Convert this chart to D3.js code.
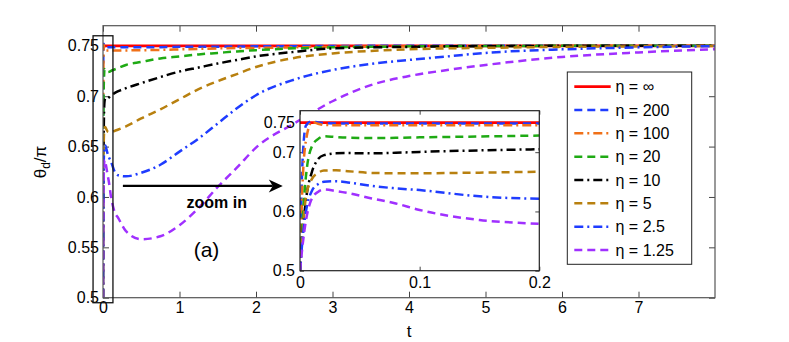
<!DOCTYPE html>
<html><head><meta charset="utf-8">
<script src="https://cdn.jsdelivr.net/npm/d3@7"></script>
<style>
html,body{margin:0;padding:0;background:#fff;}
svg{display:block;font-family:Arial,"Liberation Sans",Helvetica,sans-serif;}
</style></head>
<body><svg id="c" width="789" height="342"></svg>
<script>
// ---- data ----
const tGrid   = [0,0.002,0.005,0.01,0.015,0.02,0.03,0.04,0.06,0.08,0.1,0.15,0.2,0.3,0.5,0.75,1,1.25,1.5,1.75,2,2.5,3,3.5,4,4.5,5,6,7,8];
const etaInf  = [0.75,0.75,0.75,0.75,0.75,0.75,0.75,0.75,0.75,0.75,0.75,0.75,0.75,0.75,0.75,0.75,0.75,0.75,0.75,0.75,0.75,0.75,0.75,0.75,0.75,0.75,0.75,0.75,0.75,0.75];
const eta200  = [0.5,0.68,0.745,0.752,0.750,0.749,0.7485,0.7485,0.7485,0.7485,0.7485,0.7485,0.7485,0.7485,0.7485,0.7487,0.749,0.749,0.7492,0.7494,0.7495,0.7497,0.7498,0.75,0.75,0.75,0.75,0.75,0.75,0.75];
const eta100  = [0.5,0.64,0.72,0.751,0.748,0.746,0.7455,0.7455,0.7455,0.7455,0.7455,0.7455,0.7455,0.7455,0.7456,0.746,0.7465,0.747,0.7475,0.7478,0.748,0.7485,0.749,0.7492,0.7495,0.7497,0.7498,0.75,0.75,0.75];
const eta20   = [0.5,0.58,0.66,0.71,0.722,0.727,0.7255,0.7245,0.724,0.7242,0.725,0.7265,0.728,0.731,0.734,0.7375,0.7395,0.7415,0.743,0.7445,0.7457,0.7475,0.7485,0.749,0.7495,0.7497,0.7498,0.75,0.75,0.75];
const eta10   = [0.5,0.56,0.62,0.667,0.688,0.695,0.698,0.6985,0.698,0.699,0.7005,0.703,0.705,0.708,0.713,0.719,0.7245,0.7285,0.7325,0.736,0.7395,0.744,0.7475,0.7485,0.749,0.7495,0.7497,0.75,0.75,0.75];
const eta5    = [0.5,0.56,0.625,0.655,0.665,0.669,0.6695,0.668,0.665,0.6645,0.6645,0.6655,0.667,0.670,0.678,0.687,0.697,0.707,0.715,0.722,0.729,0.738,0.7425,0.745,0.7465,0.7475,0.748,0.749,0.7495,0.75];
const eta2_5  = [0.5,0.55,0.60,0.635,0.646,0.650,0.651,0.649,0.643,0.639,0.636,0.6255,0.6215,0.6205,0.624,0.632,0.645,0.658,0.673,0.688,0.701,0.7165,0.726,0.732,0.736,0.7395,0.743,0.7465,0.7485,0.7497];
const eta1_25 = [0.5,0.54,0.585,0.622,0.633,0.637,0.6345,0.631,0.622,0.6135,0.6025,0.5855,0.579,0.566,0.558,0.561,0.572,0.589,0.610,0.629,0.649,0.673,0.695,0.711,0.720,0.726,0.731,0.739,0.7435,0.7466];
const seriesLabels = ["η = ∞","η = 200","η = 100","η = 20","η = 10","η = 5","η = 2.5","η = 1.25"];
const seriesValues = [etaInf,eta200,eta100,eta20,eta10,eta5,eta2_5,eta1_25];
const seriesColors = ["#ff0000","#1f3cff","#f07018","#1faa14","#000000","#b8800f","#1f3cff","#a030ff"];
const seriesDash   = [null,"8,5","9,4,2,4","8,5","9,4,2,4","8,5","9,4,2,4","8,5"];
const mainXTicks = [0,1,2,3,4,5,6,7];
const mainYTicks = [0.5,0.55,0.6,0.65,0.7,0.75];
const insetXTicks = [0,0.1,0.2];
const insetYTicks = [0.5,0.6,0.7,0.75];

const svg = d3.select("#c");
const FONT = 16;
const LW = 2.5;

// ---- main axes ----
const L=103,R=715,T=25.7,B=297.7;
const x = d3.scaleLinear().domain([0,8]).range([L,R]);
const y = d3.scaleLinear().domain([0.5,0.77]).range([B,T]);

svg.append("defs").append("clipPath").attr("id","mainclip")
  .append("rect").attr("x",L).attr("y",T).attr("width",R-L).attr("height",B-T);

function styleAxis(g){
  g.select(".domain").remove();
  g.selectAll(".tick line").attr("stroke","#444");
  g.selectAll(".tick text").attr("font-size",FONT).attr("fill","#000").attr("font-family","Arial, 'Liberation Sans', sans-serif");
}
svg.append("g").attr("transform",`translate(0,${B})`)
  .call(d3.axisBottom(x).tickValues(mainXTicks).tickFormat(d3.format("d")).tickSize(-6).tickPadding(4)).call(styleAxis);
svg.append("g").attr("transform",`translate(0,${T})`)
  .call(d3.axisTop(x).tickValues(mainXTicks).tickFormat("").tickSize(-6)).call(styleAxis);
svg.append("g").attr("transform",`translate(${L},0)`)
  .call(d3.axisLeft(y).tickValues(mainYTicks).tickFormat(d=>String(d)).tickSize(-6).tickPadding(4)).call(styleAxis);
svg.append("g").attr("transform",`translate(${R},0)`)
  .call(d3.axisRight(y).tickValues(mainYTicks).tickFormat("").tickSize(-6)).call(styleAxis);

const lineMain = d3.line().x(d=>x(d[0])).y(d=>y(d[1])).curve(d3.curveMonotoneX);
const gm = svg.append("g").attr("clip-path","url(#mainclip)");
seriesValues.forEach((vals,i)=>{
  const pts = tGrid.map((t,j)=>[t,vals[j]]);
  gm.append("path").attr("d",lineMain(pts)).attr("fill","none")
    .attr("stroke",seriesColors[i]).attr("stroke-width",i===0?2.8:LW)
    .attr("stroke-dasharray",seriesDash[i]);
});

svg.append("rect").attr("x",L).attr("y",T).attr("width",R-L).attr("height",B-T)
  .attr("fill","none").attr("stroke","#555").attr("stroke-width",1.2);

// zoom rectangle
svg.append("rect").attr("x",x(-0.13)).attr("y",y(0.76)).attr("width",x(0.13)-x(-0.13)).attr("height",y(0.495)-y(0.76))
  .attr("fill","none").attr("stroke","#111").attr("stroke-width",1.3);

// arrow
const ay = y(0.611);
svg.append("line").attr("x1",x(0.26)).attr("x2",x(2.35)-10).attr("y1",ay).attr("y2",ay)
  .attr("stroke","#000").attr("stroke-width",2.2);
svg.append("path").attr("d",`M${x(2.35)},${ay} L${x(2.35)-14},${ay-6.5} L${x(2.35)-10},${ay} L${x(2.35)-14},${ay+6.5} Z`).attr("fill","#000");
svg.append("text").attr("x",216.7).attr("y",207.5).attr("text-anchor","middle")
  .attr("font-size",FONT).attr("font-weight","bold").text("zoom in");
svg.append("text").attr("x",206.5).attr("y",256.5).attr("text-anchor","middle")
  .attr("font-size",21).text("(a)");

// axis labels
svg.append("text").attr("x",409).attr("y",336.5).attr("text-anchor","middle").attr("font-size",17).text("t");
const yl = svg.append("text").attr("transform","translate(46,162) rotate(-90)").attr("text-anchor","middle").attr("font-size",17);
yl.append("tspan").text("θ");
yl.append("tspan").attr("font-size",12).attr("dy",4).text("d");
yl.append("tspan").attr("dy",-4).text("/π");

// ---- inset ----
const iL=300,iR=539.3,iT=110.7,iB=270.7;
const xi = d3.scaleLinear().domain([0,0.2]).range([iL,iR]);
const yi = d3.scaleLinear().domain([0.5,0.77]).range([iB,iT]);
svg.append("rect").attr("x",iL).attr("y",iT).attr("width",iR-iL).attr("height",iB-iT).attr("fill","#fff");
svg.select("defs").append("clipPath").attr("id","insetclip")
  .append("rect").attr("x",iL).attr("y",iT).attr("width",iR-iL).attr("height",iB-iT);
svg.append("g").attr("transform",`translate(0,${iB})`)
  .call(d3.axisBottom(xi).tickValues(insetXTicks).tickFormat(d=>String(d)).tickSize(-4).tickPadding(6)).call(styleAxis);
svg.append("g").attr("transform",`translate(0,${iT})`)
  .call(d3.axisTop(xi).tickValues(insetXTicks).tickFormat("").tickSize(-4)).call(styleAxis);
svg.append("g").attr("transform",`translate(${iL},0)`)
  .call(d3.axisLeft(yi).tickValues(insetYTicks).tickFormat(d=>String(d)).tickSize(-4).tickPadding(5)).call(styleAxis);
svg.append("g").attr("transform",`translate(${iR},0)`)
  .call(d3.axisRight(yi).tickValues(insetYTicks).tickFormat("").tickSize(-4)).call(styleAxis);
const lineIn = d3.line().x(d=>xi(d[0])).y(d=>yi(d[1])).curve(d3.curveMonotoneX);
const gi = svg.append("g").attr("clip-path","url(#insetclip)");
seriesValues.forEach((vals,i)=>{
  const pts = tGrid.map((t,j)=>[t,vals[j]]).filter(d=>d[0]<=0.3);
  gi.append("path").attr("d",lineIn(pts)).attr("fill","none")
    .attr("stroke",seriesColors[i]).attr("stroke-width",i===0?2.8:LW)
    .attr("stroke-dasharray",seriesDash[i]);
});
svg.append("rect").attr("x",iL).attr("y",iT).attr("width",iR-iL).attr("height",iB-iT)
  .attr("fill","none").attr("stroke","#222").attr("stroke-width",1.2);

// ---- legend ----
const lgX=567.3,lgY=72,lgW=124.4,lgH=192.3;
svg.append("rect").attr("x",lgX).attr("y",lgY).attr("width",lgW).attr("height",lgH)
  .attr("fill","#fff").attr("stroke","#222").attr("stroke-width",1);
seriesLabels.forEach((lab,i)=>{
  const cy = 86.7 + i*23.33;
  svg.append("line").attr("x1",574.3).attr("x2",610.7).attr("y1",cy).attr("y2",cy)
    .attr("stroke",seriesColors[i]).attr("stroke-width",i===0?2.8:LW)
    .attr("stroke-dasharray",seriesDash[i]);
  svg.append("text").attr("x",615.5).attr("y",cy+5.7).attr("font-size",FONT).text(lab);
});
</script></body></html>
